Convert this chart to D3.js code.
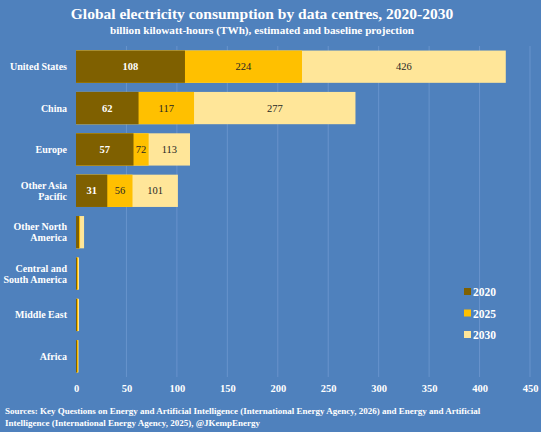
<!DOCTYPE html>
<html>
<head>
<meta charset="utf-8">
<script src="https://cdn.jsdelivr.net/npm/d3@7"></script>
<style>
  html, body { margin: 0; padding: 0; background: #4f81bd; }
  svg { display: block; font-family: 'Liberation Serif', 'DejaVu Serif', serif; }
</style>
</head>
<body>
<svg id="chart"></svg>
<script>
const regions = [
  'United States', 'China', 'Europe', 'Other Asia Pacific',
  'Other North America', 'Central and South America', 'Middle East', 'Africa',
];
const regionLines = [
  ['United States'], ['China'], ['Europe'], ['Other Asia', 'Pacific'],
  ['Other North', 'America'], ['Central and', 'South America'], ['Middle East'], ['Africa'],
];
const years = ['2020', '2025', '2030'];
const v2020 = [108, 62, 57, 31, 3, 1, 1, 1];
const v2025 = [224, 117, 72, 56, 4, 2, 2, 2];
const v2030 = [426, 277, 113, 101, 8, 3, 3, 2.5];
const xTicks = [0, 50, 100, 150, 200, 250, 300, 350, 400, 450];

const colors = { '2020': '#7f6000', '2025': '#ffc000', '2030': '#ffe699' };
const labelColors = { '2020': '#ffffff', '2025': '#262626', '2030': '#262626' };

const width = 541;
const height = 432;
const margin = { top: 46, right: 11, bottom: 55, left: 76 };

const svg = d3.select('#chart').attr('width', width).attr('height', height);

svg.append('rect').attr('width', width).attr('height', height).attr('fill', '#4f81bd');

const x = d3.scaleLinear().domain([0, 450]).range([margin.left, width - margin.right]);
const y = d3
  .scaleBand()
  .domain(regions)
  .range([margin.top, height - margin.bottom])
  .paddingInner(0.22)
  .paddingOuter(0.11);

// gridlines
svg
  .append('g')
  .selectAll('line')
  .data(xTicks.slice(1))
  .join('line')
  .attr('x1', (d) => x(d))
  .attr('x2', (d) => x(d))
  .attr('y1', margin.top)
  .attr('y2', height - margin.bottom)
  .attr('stroke', '#6893cc')
  .attr('stroke-width', 1);

// x axis labels
const xAxis = svg
  .append('g')
  .attr('transform', `translate(0, ${height - margin.bottom + 3})`)
  .call(d3.axisBottom(x).tickValues(xTicks).tickSize(0).tickPadding(5));
xAxis.select('.domain').remove();
xAxis
  .selectAll('text')
  .attr('fill', '#ffffff')
  .attr('font-size', 10.5)
  .attr('font-weight', 'bold')
  .attr('font-family', 'Liberation Serif, serif');

// bars: overlaid, largest (2030) behind
const series = [
  { year: '2030', values: v2030, prev: v2025 },
  { year: '2025', values: v2025, prev: v2020 },
  { year: '2020', values: v2020, prev: null },
];

series.forEach((s) => {
  svg
    .append('g')
    .selectAll('rect')
    .data(s.values.map((v, i) => ({ region: regions[i], value: v })))
    .join('rect')
    .attr('x', x(0))
    .attr('y', (d) => y(d.region))
    .attr('width', (d) => x(d.value) - x(0))
    .attr('height', y.bandwidth())
    .attr('fill', colors[s.year]);
});

// value labels centred in each visible segment
series.forEach((s) => {
  const items = s.values
    .map((v, i) => ({ region: regions[i], value: v, start: s.prev ? s.prev[i] : 0 }))
    .filter((d) => x(d.value) - x(d.start) > 14);
  svg
    .append('g')
    .selectAll('text')
    .data(items)
    .join('text')
    .attr('x', (d) => (x(d.start) + x(d.value)) / 2)
    .attr('y', (d) => y(d.region) + y.bandwidth() / 2)
    .attr('dy', '0.35em')
    .attr('text-anchor', 'middle')
    .attr('font-size', 10.5)
    .attr('font-weight', s.year === '2020' ? 'bold' : 'normal')
    .attr('fill', labelColors[s.year])
    .text((d) => d.value);
});

// category labels
const catSize = 10;
const cat = svg
  .append('g')
  .selectAll('text')
  .data(regions)
  .join('text')
  .attr('x', margin.left - 9)
  .attr('y', (d) => y(d) + y.bandwidth() / 2)
  .attr('text-anchor', 'end')
  .attr('fill', '#ffffff')
  .attr('font-size', catSize)
  .attr('font-weight', 'bold');
cat.each(function (d, i) {
  const lines = regionLines[i];
  const lh = 11;
  lines.forEach((ln, j) => {
    d3.select(this)
      .append('tspan')
      .attr('x', margin.left - 9)
      .attr('dy', j === 0 ? `${0.35 * catSize - ((lines.length - 1) * lh) / 2}px` : `${lh}px`)
      .text(ln);
  });
});

// legend
const legend = svg
  .append('g')
  .selectAll('g')
  .data(years)
  .join('g')
  .attr('transform', (d, i) => `translate(464, ${292 + i * 21.5})`);
legend
  .append('rect')
  .attr('x', 0)
  .attr('y', -4)
  .attr('width', 7)
  .attr('height', 7)
  .attr('fill', (d) => colors[d]);
legend
  .append('text')
  .attr('x', 9)
  .attr('y', 0)
  .attr('dy', '0.35em')
  .attr('fill', '#ffffff')
  .attr('font-size', 11.5)
  .attr('font-weight', 'bold')
  .text((d) => d);

// titles
svg
  .append('text')
  .attr('x', 262)
  .attr('y', 19)
  .attr('text-anchor', 'middle')
  .attr('fill', '#ffffff')
  .attr('font-size', 15.5)
  .attr('font-weight', 'bold')
  .text('Global electricity consumption by data centres, 2020-2030');
svg
  .append('text')
  .attr('x', 262)
  .attr('y', 34)
  .attr('text-anchor', 'middle')
  .attr('fill', '#ffffff')
  .attr('font-size', 11.2)
  .attr('font-weight', 'bold')
  .text('billion kilowatt-hours (TWh), estimated and baseline projection');

// source
const src = svg
  .append('text')
  .attr('x', 5)
  .attr('y', 414)
  .attr('fill', '#ffffff')
  .attr('font-size', 9)
  .attr('font-weight', 'bold');
src
  .append('tspan')
  .attr('x', 5)
  .text('Sources: Key Questions on Energy and Artificial Intelligence (International Energy Agency, 2026) and Energy and Artificial');
src
  .append('tspan')
  .attr('x', 5)
  .attr('dy', 12)
  .text('Intelligence (International Energy Agency, 2025), @JKempEnergy');
</script>
</body>
</html>
